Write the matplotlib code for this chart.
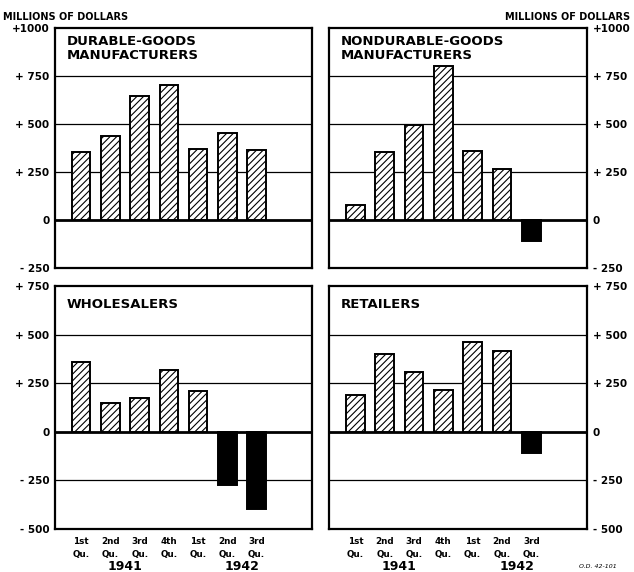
"""Changes in inventories by type of business, 1941-1942"""
import matplotlib.pyplot as plt
from matplotlib.transforms import blended_transform_factory

plt.rcParams['font.family'] = ['DejaVu Sans']
plt.rcParams['hatch.linewidth'] = 0.8

quarters = ['1st\nQu.', '2nd\nQu.', '3rd\nQu.', '4th\nQu.',
            '1st\nQu.', '2nd\nQu.', '3rd\nQu.']
years = ['1941', '1942']

durable = [352, 440, 645, 705, 370, 455, 365]
nondurable = [78, 355, 495, 800, 358, 265, -110]
wholesalers = [358, 150, 174, 320, 210, -275, -395]
retailers = [187, 400, 310, 217, 460, 415, -110]

top_ticks = [1000, 750, 500, 250, 0, -250]
top_labels = ['+1000', '+ 750', '+ 500', '+ 250', '0', '- 250']
bottom_ticks = [750, 500, 250, 0, -250, -500]
bottom_labels = ['+ 750', '+ 500', '+ 250', '0', '- 250', '- 500']

panels = [
    ('DURABLE-GOODS\nMANUFACTURERS', durable, 'left', 'top'),
    ('NONDURABLE-GOODS\nMANUFACTURERS', nondurable, 'right', 'top'),
    ('WHOLESALERS', wholesalers, 'left', 'bottom'),
    ('RETAILERS', retailers, 'right', 'bottom'),
]

W, H = 634, 572
fig = plt.figure(figsize=(W / 100, H / 100), dpi=100)


def px_axes(x0, y0, x1, y1):
    return fig.add_axes([x0 / W, 1 - y1 / H, (x1 - x0) / W, (y1 - y0) / H])


boxes = {
    ('left', 'top'): (55, 28, 312, 268),
    ('right', 'top'): (329, 28, 587, 268),
    ('left', 'bottom'): (55, 286, 312, 529),
    ('right', 'bottom'): (329, 286, 587, 529),
}

for title, values, side, row in panels:
    ax = px_axes(*boxes[(side, row)])
    xs = list(range(len(values)))
    if row == 'top':
        ticks, labels = top_ticks, top_labels
    else:
        ticks, labels = bottom_ticks, bottom_labels
    lo, hi = min(ticks), max(ticks)

    for t in ticks:
        if lo < t < hi:
            ax.axhline(t, color='black', lw=2.0 if t == 0 else 0.9, zorder=1)

    for x, v in zip(xs, values):
        if v >= 0:
            ax.bar(x, v, width=0.63, facecolor='white', edgecolor='black',
                   hatch='/////', linewidth=1.4, zorder=3)
        else:
            ax.bar(x, v, width=0.63, facecolor='black', edgecolor='black',
                   linewidth=1.4, zorder=3)

    ax.set_xlim(-0.9, 7.9)
    ax.set_ylim(lo, hi)
    ax.set_yticks(ticks)
    ax.set_yticklabels(labels, fontsize=7.5, fontweight='bold')
    if side == 'right':
        ax.yaxis.tick_right()
    ax.tick_params(axis='both', length=0, pad=4)
    for s in ax.spines.values():
        s.set_linewidth(1.6)

    if row == 'bottom':
        ax.set_xticks(xs)
        ax.set_xticklabels(quarters, fontsize=6.3, fontweight='bold',
                           linespacing=1.5)
        ax.tick_params(axis='x', pad=6)
        tr = blended_transform_factory(ax.transData, ax.transAxes)
        ax.text(1.5, -0.155, years[0], transform=tr, ha='center',
                va='center', fontsize=9, fontweight='bold')
        ax.text(5.5, -0.155, years[1], transform=tr, ha='center',
                va='center', fontsize=9, fontweight='bold')
        ty = 0.95
    else:
        ax.set_xticks([])
        ty = 0.97

    ax.text(0.045, ty, title, transform=ax.transAxes, ha='left', va='top',
            fontsize=9.5, fontweight='bold', linespacing=1.05)

fig.text(3 / W, 1 - 17 / H, 'MILLIONS OF DOLLARS', ha='left', va='center',
         fontsize=7, fontweight='bold')
fig.text(630 / W, 1 - 17 / H, 'MILLIONS OF DOLLARS', ha='right', va='center',
         fontsize=7, fontweight='bold')
fig.text(598 / W, 1 - 566 / H, 'O.D. 42-101', ha='center', va='center',
         fontsize=4.5, style='italic')

fig.savefig('out.png', dpi=100)
